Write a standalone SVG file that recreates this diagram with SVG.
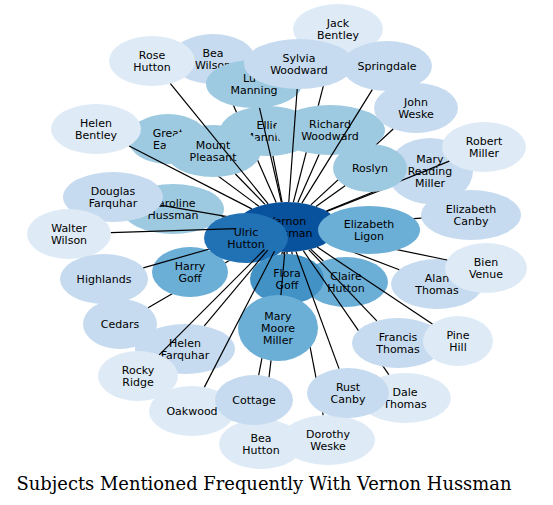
<svg xmlns="http://www.w3.org/2000/svg" width="553" height="505" viewBox="0 0 553 505">
<style>
.c1{fill:#deebf7}.c2{fill:#c6dbef}.c3{fill:#9ecae1}.c4{fill:#6baed6}.c5{fill:#4292c6}.c6{fill:#2171b5}.c7{fill:#08519c}
text{font-family:"DejaVu Sans","Liberation Sans",sans-serif;font-size:11px;fill:#000;text-anchor:middle}
text.s{text-anchor:start}
.e line{stroke:#000;stroke-width:1.2;fill:none}
.title{font-family:"DejaVu Serif","Liberation Serif",serif;font-size:17.9px}
</style>
<defs>
<mask id="mJB" maskUnits="userSpaceOnUse" x="0" y="0" width="553" height="505"><rect width="553" height="505" fill="#fff"/><ellipse cx="299" cy="64" rx="55" ry="25"/><ellipse cx="330" cy="130" rx="55" ry="25"/></mask>
<mask id="mJW" maskUnits="userSpaceOnUse" x="0" y="0" width="553" height="505"><rect width="553" height="505" fill="#fff"/><ellipse cx="370" cy="168" rx="37" ry="24"/><ellipse cx="330" cy="130" rx="55" ry="25"/></mask>
<mask id="mRO" maskUnits="userSpaceOnUse" x="0" y="0" width="553" height="505"><rect width="553" height="505" fill="#fff"/><ellipse cx="370" cy="168" rx="37" ry="24"/></mask>
<mask id="mEL" maskUnits="userSpaceOnUse" x="0" y="0" width="553" height="505"><rect width="553" height="505" fill="#fff"/><ellipse cx="369" cy="230" rx="51" ry="24"/></mask>
<mask id="mFT" maskUnits="userSpaceOnUse" x="0" y="0" width="553" height="505"><rect width="553" height="505" fill="#fff"/><ellipse cx="398" cy="343" rx="46" ry="25"/></mask>
<mask id="mDW" maskUnits="userSpaceOnUse" x="0" y="0" width="553" height="505"><rect width="553" height="505" fill="#fff"/><ellipse cx="348" cy="393" rx="41" ry="25"/><ellipse cx="278" cy="328" rx="40" ry="33"/><ellipse cx="287" cy="279" rx="37" ry="25"/></mask>
<mask id="mBH" maskUnits="userSpaceOnUse" x="0" y="0" width="553" height="505"><rect width="553" height="505" fill="#fff"/><ellipse cx="254" cy="400" rx="39" ry="25"/><ellipse cx="278" cy="328" rx="40" ry="33"/><ellipse cx="287" cy="279" rx="37" ry="25"/></mask>
<mask id="mCO" maskUnits="userSpaceOnUse" x="0" y="0" width="553" height="505"><rect width="553" height="505" fill="#fff"/><ellipse cx="278" cy="328" rx="40" ry="33"/><ellipse cx="287" cy="279" rx="37" ry="25"/></mask>
<mask id="mCE" maskUnits="userSpaceOnUse" x="0" y="0" width="553" height="505"><rect width="553" height="505" fill="#fff"/><ellipse cx="190" cy="272" rx="38" ry="25"/><ellipse cx="246" cy="238" rx="42" ry="25"/></mask>
<mask id="mU" maskUnits="userSpaceOnUse" x="0" y="0" width="553" height="505"><rect width="553" height="505" fill="#fff"/><ellipse cx="246" cy="238" rx="42" ry="25"/></mask>
<mask id="mMP" maskUnits="userSpaceOnUse" x="0" y="0" width="553" height="505"><rect width="553" height="505" fill="#fff"/><ellipse cx="213" cy="151" rx="48" ry="26"/></mask>
<mask id="mBW" maskUnits="userSpaceOnUse" x="0" y="0" width="553" height="505"><rect width="553" height="505" fill="#fff"/><ellipse cx="254" cy="84" rx="48" ry="24"/><ellipse cx="268" cy="131" rx="48" ry="25"/><ellipse cx="213" cy="151" rx="48" ry="26"/></mask>
</defs>
<rect width="553" height="505" fill="#fff"/>
<g id="nodes">
<g id="n-vernon-hussman"><ellipse class="c7" cx="287" cy="227" rx="51" ry="25"/><text x="287" y="224.6">Vernon</text><text x="287" y="236.9">Hussman</text></g>
<g id="n-mary-reading-miller"><ellipse class="c2" cx="430" cy="171" rx="43" ry="33"/><text x="430" y="162.5">Mary</text><text x="430" y="174.8">Reading</text><text x="430" y="187.1">Miller</text></g>
<g id="n-elizabeth-canby"><ellipse class="c2" cx="471" cy="215" rx="50" ry="25"/><text x="471" y="212.6">Elizabeth</text><text x="471" y="224.9">Canby</text></g>
<g id="n-robert-miller"><ellipse class="c1" cx="484" cy="147" rx="42" ry="25"/><text x="484" y="144.6">Robert</text><text x="484" y="156.9">Miller</text></g>
<g id="n-elizabeth-ligon"><ellipse class="c4" cx="369" cy="230" rx="51" ry="24"/><text x="369" y="227.6">Elizabeth</text><text x="369" y="239.9">Ligon</text></g>
<g id="n-ellie-manning"><ellipse class="c3" cx="268" cy="131" rx="48" ry="25"/><text x="268" y="128.6">Ellie</text><text x="268" y="140.9">Manning</text></g>
<g id="n-richard-woodward"><ellipse class="c3" cx="330" cy="130" rx="55" ry="25"/><text x="330" y="127.6">Richard</text><text x="330" y="139.9">Woodward</text></g>
<g id="n-roslyn"><ellipse class="c3" cx="370" cy="168" rx="37" ry="24"/><text x="370" y="171.8">Roslyn</text></g>
<g id="n-great-ea"><ellipse class="c3" cx="168" cy="139" rx="40" ry="25"/><text x="168" y="136.6">Great</text><text class="s" x="153" y="148.9">Ea</text></g>
<g id="n-mount-pleasant"><ellipse class="c3" cx="213" cy="151" rx="48" ry="26"/><text x="213" y="148.6">Mount</text><text x="213" y="160.9">Pleasant</text></g>
<g id="n-helen-bentley"><ellipse class="c1" cx="96" cy="129" rx="45" ry="25"/><text x="96" y="126.6">Helen</text><text x="96" y="138.9">Bentley</text></g>
<g id="n-bea-wilson"><ellipse class="c2" cx="213" cy="59" rx="42" ry="25"/><text x="213" y="56.6">Bea</text><text x="213" y="68.9">Wilson</text></g>
<g id="n-rose-hutton"><ellipse class="c1" cx="152" cy="61" rx="43" ry="25"/><text x="152" y="58.6">Rose</text><text x="152" y="70.9">Hutton</text></g>
<g id="n-lu-manning"><ellipse class="c3" cx="254" cy="84" rx="48" ry="24"/><text class="s" x="243" y="81.6">Lu</text><text x="254" y="93.9">Manning</text></g>
<g id="n-jack-bentley"><ellipse class="c1" cx="338" cy="29" rx="45" ry="25"/><text x="338" y="26.6">Jack</text><text x="338" y="38.9">Bentley</text></g>
<g id="n-sylvia-woodward"><ellipse class="c2" cx="299" cy="64" rx="55" ry="25"/><text x="299" y="61.6">Sylvia</text><text x="299" y="73.9">Woodward</text></g>
<g id="n-springdale"><ellipse class="c2" cx="387" cy="66" rx="45" ry="25"/><text x="387" y="69.8">Springdale</text></g>
<g id="n-john-weske"><ellipse class="c2" cx="416" cy="108" rx="42" ry="25"/><text x="416" y="105.6">John</text><text x="416" y="117.9">Weske</text></g>
<g id="n-caroline-hussman"><ellipse class="c3" cx="173" cy="209" rx="51" ry="25"/><text x="173" y="206.6">Caroline</text><text x="173" y="218.9">Hussman</text></g>
<g id="n-douglas-farquhar"><ellipse class="c2" cx="113" cy="197" rx="50" ry="25"/><text x="113" y="194.6">Douglas</text><text x="113" y="206.9">Farquhar</text></g>
<g id="n-walter-wilson"><ellipse class="c1" cx="69" cy="234" rx="42" ry="25"/><text x="69" y="231.6">Walter</text><text x="69" y="243.9">Wilson</text></g>
<g id="n-highlands"><ellipse class="c2" cx="104" cy="279" rx="44" ry="25"/><text x="104" y="282.8">Highlands</text></g>
<g id="n-cedars"><ellipse class="c2" cx="120" cy="324" rx="37" ry="25"/><text x="120" y="327.8">Cedars</text></g>
<g id="n-harry-goff"><ellipse class="c4" cx="190" cy="272" rx="38" ry="25"/><text x="190" y="269.6">Harry</text><text x="190" y="281.9">Goff</text></g>
<g id="n-ulric-hutton"><ellipse class="c6" cx="246" cy="238" rx="42" ry="25"/><text x="246" y="235.6">Ulric</text><text x="246" y="247.9">Hutton</text></g>
<g id="n-claire-hutton"><ellipse class="c4" cx="346" cy="282" rx="42" ry="25"/><text x="346" y="279.6">Claire</text><text x="346" y="291.9">Hutton</text></g>
<g id="n-flora-goff"><ellipse class="c5" cx="287" cy="279" rx="37" ry="25"/><text x="287" y="276.6">Flora</text><text x="287" y="288.9">Goff</text></g>
<g id="n-mary-moore-miller"><ellipse class="c4" cx="278" cy="328" rx="40" ry="33"/><text x="278" y="319.5">Mary</text><text x="278" y="331.8">Moore</text><text x="278" y="344.1">Miller</text></g>
<g id="n-alan-thomas"><ellipse class="c2" cx="437" cy="284" rx="46" ry="25"/><text x="437" y="281.6">Alan</text><text x="437" y="293.9">Thomas</text></g>
<g id="n-bien-venue"><ellipse class="c1" cx="486" cy="268" rx="41" ry="25"/><text x="486" y="265.6">Bien</text><text x="486" y="277.9">Venue</text></g>
<g id="n-dale-thomas"><ellipse class="c1" cx="405" cy="398" rx="46" ry="25"/><text x="405" y="395.6">Dale</text><text x="405" y="407.9">Thomas</text></g>
<g id="n-francis-thomas"><ellipse class="c2" cx="398" cy="343" rx="46" ry="25"/><text x="398" y="340.6">Francis</text><text x="398" y="352.9">Thomas</text></g>
<g id="n-pine-hill"><ellipse class="c1" cx="458" cy="341" rx="35" ry="25"/><text x="458" y="338.6">Pine</text><text x="458" y="350.9">Hill</text></g>
<g id="n-helen-farquhar"><ellipse class="c2" cx="185" cy="349" rx="50" ry="25"/><text x="185" y="346.6">Helen</text><text x="185" y="358.9">Farquhar</text></g>
<g id="n-rocky-ridge"><ellipse class="c1" cx="138" cy="376" rx="40" ry="25"/><text x="138" y="373.6">Rocky</text><text x="138" y="385.9">Ridge</text></g>
<g id="n-oakwood"><ellipse class="c1" cx="192" cy="411" rx="43" ry="25"/><text x="192" y="414.8">Oakwood</text></g>
<g id="n-bea-hutton"><ellipse class="c1" cx="261" cy="444" rx="42" ry="25"/><text x="261" y="441.6">Bea</text><text x="261" y="453.9">Hutton</text></g>
<g id="n-cottage"><ellipse class="c2" cx="254" cy="400" rx="39" ry="25"/><text x="254" y="403.8">Cottage</text></g>
<g id="n-dorothy-weske"><ellipse class="c1" cx="328" cy="440" rx="47" ry="25"/><text x="328" y="437.6">Dorothy</text><text x="328" y="449.9">Weske</text></g>
<g id="n-rust-canby"><ellipse class="c2" cx="348" cy="393" rx="41" ry="25"/><text x="348" y="390.6">Rust</text><text x="348" y="402.9">Canby</text></g>
</g>
<g id="edges" class="e">
<line x1="331.6" y1="53.8" x2="293.4" y2="202.2" mask="url(#mJB)"/>
<line x1="297.2" y1="89" x2="288.8" y2="202"/>
<line x1="372.3" y1="89.6" x2="301.9" y2="203.1"/>
<line x1="393.2" y1="129" x2="310.9" y2="204.9" mask="url(#mJW)"/>
<line x1="449.3" y1="161.1" x2="326.3" y2="211" mask="url(#mRO)"/>
<line x1="391.7" y1="186" x2="326.8" y2="211.4" mask="url(#mRO)"/>
<line x1="421.4" y1="218.2" x2="337.5" y2="223.7" mask="url(#mEL)"/>
<line x1="447.2" y1="260" x2="334" y2="236.7" mask="url(#mEL)"/>
<line x1="399.3" y1="269.7" x2="327.3" y2="242.3" mask="url(#mEL)"/>
<line x1="432.4" y1="323.9" x2="317.2" y2="247.1"/>
<line x1="376.8" y1="320.8" x2="308.7" y2="249.6"/>
<line x1="388.8" y1="374.6" x2="303.3" y2="250.7" mask="url(#mFT)"/>
<line x1="339" y1="368.6" x2="296" y2="251.6"/>
<line x1="323.2" y1="415.1" x2="291.8" y2="251.9" mask="url(#mDW)"/>
<line x1="280.9" y1="295.1" x2="284.8" y2="252"/>
<line x1="264" y1="419.1" x2="284" y2="252" mask="url(#mBH)"/>
<line x1="258.7" y1="375.2" x2="282.3" y2="251.9" mask="url(#mCO)"/>
<line x1="204.4" y1="387.1" x2="274.5" y2="251.2"/>
<line x1="159.2" y1="354.8" x2="264.5" y2="249.5"/>
<line x1="204.3" y1="325.9" x2="267.7" y2="250.1"/>
<line x1="148.1" y1="307.7" x2="254.1" y2="246.1" mask="url(#mCE)"/>
<line x1="143.3" y1="267.8" x2="242.9" y2="239.5" mask="url(#mU)"/>
<line x1="110.9" y1="232.7" x2="236.1" y2="228.6"/>
<line x1="160.3" y1="205.2" x2="238.9" y2="218.7" mask="url(#mU)"/>
<line x1="221.6" y1="216.7" x2="238.4" y2="219.3" mask="url(#mU)"/>
<line x1="129.1" y1="146" x2="251.8" y2="208.9"/>
<line x1="193.8" y1="158.1" x2="258.8" y2="206.2" mask="url(#mMP)"/>
<line x1="235.4" y1="174" x2="265" y2="204.4"/>
<line x1="272.9" y1="155.9" x2="282.1" y2="202.1"/>
<line x1="223.7" y1="83.2" x2="276.2" y2="202.6" mask="url(#mBW)"/>
<line x1="170.4" y1="83.6" x2="268.1" y2="203.8"/>
<line x1="259.5" y1="107.8" x2="281.3" y2="202.2"/>
<line x1="319.1" y1="154.5" x2="297.8" y2="202.6"/>
<line x1="345.1" y1="185.7" x2="316" y2="206.4"/>
<line x1="323.4" y1="261" x2="310.7" y2="249.1"/>
<line x1="287" y1="254" x2="287" y2="252"/>
</g>
<text class="title" x="264" y="490">Subjects Mentioned Frequently With Vernon Hussman</text>
</svg>
